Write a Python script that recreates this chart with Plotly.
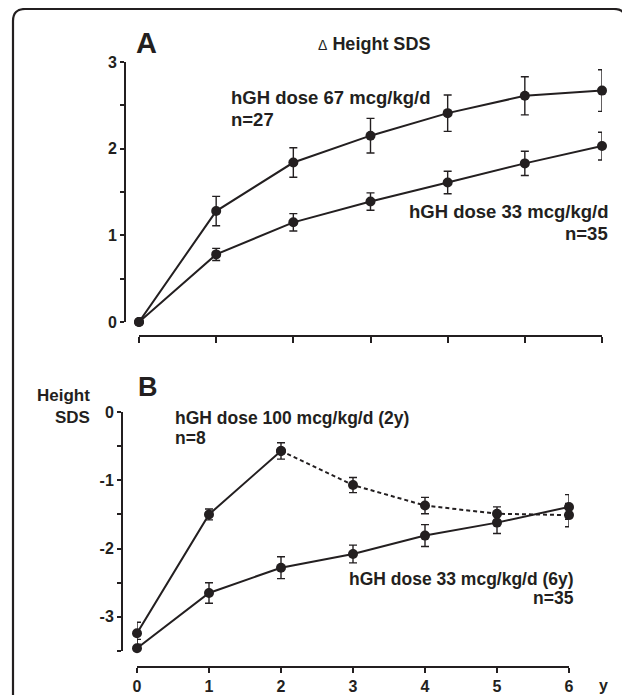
import plotly.graph_objects as go

# ---------------- data ----------------
years = [0, 1, 2, 3, 4, 5, 6]

# Panel A: delta height SDS
a_dose67 = [0, 1.28, 1.84, 2.15, 2.41, 2.61, 2.67]
a_dose67_err = [0, 0.17, 0.17, 0.20, 0.21, 0.22, 0.24]
a_dose33 = [0, 0.78, 1.15, 1.39, 1.61, 1.83, 2.03]
a_dose33_err = [0, 0.07, 0.10, 0.10, 0.13, 0.14, 0.16]

# Panel B: height SDS
b_dose100 = [-3.24, -1.50, -0.57, -1.07, -1.37, -1.49, -1.51]
b_dose100_err = [0.16, 0.08, 0.12, 0.11, 0.12, 0.10, 0.17]
b_dose33 = [-3.46, -2.65, -2.28, -2.08, -1.81, -1.62, -1.39]
b_dose33_err = [0.13, 0.15, 0.16, 0.13, 0.16, 0.16, 0.18]

a_yticks = [0, 0.5, 1, 1.5, 2, 2.5, 3]
a_yticktext = ["0", "", "1", "", "2", "", "3"]
b_yticks = [-3.5, -3, -2.5, -2, -1.5, -1, -0.5, 0]
b_yticktext = ["", "-3", "", "-2", "", "-1", "", "0"]
x_ticktext = ["0", "1", "2", "3", "4", "5", "6"]

# ---------------- layout helpers ----------------
# The page body has an 8px margin, so the figure is drawn at (8, 8);
# it is made 8px smaller so that it fits the 630x695 window.
OFF = 8
W, H = 630 - OFF, 695 - OFF
INK = "#231f20"
FONT = "Liberation Sans, Arial, sans-serif"


def px(x):
    return (x - OFF) / W


def py(y):
    return 1 - (y - OFF) / H


fig = go.Figure()


def add_series(x, y, err, xa, ya, dash="solid"):
    fig.add_trace(go.Scatter(
        x=x, y=y, xaxis=xa, yaxis=ya, mode="lines+markers",
        line=dict(color=INK, width=2, dash=dash),
        marker=dict(color=INK, size=10, symbol="circle"),
        error_y=dict(type="data", array=err, visible=True, color=INK,
                     thickness=1.4, width=4),
        cliponaxis=False, showlegend=False, hoverinfo="x+y"))


# Panel A
add_series(years, a_dose67, a_dose67_err, "x", "y")
add_series(years, a_dose33, a_dose33_err, "x", "y")
# Panel B
add_series(years[:3], b_dose100[:3], b_dose100_err[:3], "x2", "y2")
add_series(years[2:], b_dose100[2:], [0] + b_dose100_err[3:], "x2", "y2",
           dash="4px,3px")
add_series(years, b_dose33, b_dose33_err, "x2", "y2")

tickfont = dict(family=FONT, size=16, color=INK, weight="bold")
common_axis = dict(showline=True, linecolor=INK, linewidth=2, ticks="outside",
                   tickcolor=INK, tickwidth=2, showgrid=False, zeroline=False,
                   tickfont=tickfont, fixedrange=True, automargin=False)

fig.update_layout(
    template="none",
    width=W, height=H, autosize=False,
    margin=dict(l=0, r=0, t=0, b=0, pad=0, autoexpand=False),
    paper_bgcolor="white", plot_bgcolor="rgba(0,0,0,0)",
    font=dict(family=FONT, color=INK),
    xaxis=dict(domain=[px(139), px(602)], range=[0, 6], anchor="free",
               position=py(336), tickvals=years, showticklabels=False,
               ticklen=6, **common_axis),
    yaxis=dict(domain=[py(322), py(62)], range=[0, 3], anchor="free",
               position=px(125), tickvals=a_yticks, ticktext=a_yticktext,
               ticklen=4, **common_axis),
    xaxis2=dict(domain=[px(137), px(569)], range=[0, 6], anchor="free",
                position=py(667), tickvals=years, ticktext=x_ticktext,
                ticklen=5, **common_axis),
    yaxis2=dict(domain=[py(651), py(412)], range=[-3.5, 0], anchor="free",
                position=px(122), tickvals=b_yticks, ticktext=b_yticktext,
                ticklen=4, **common_axis),
)


def note(text, x, y, size, xanchor="left", weight="bold"):
    fig.add_annotation(text=text, x=px(x), y=py(y), xref="paper", yref="paper",
                       xanchor=xanchor, yanchor="middle", showarrow=False,
                       font=dict(family=FONT, size=size, color=INK, weight=weight))


note("A", 146.5, 43, 29, xanchor="center")
note("<span style='font-size:14px;font-weight:normal'>Δ</span> <b>Height SDS</b>",
     316, 44, 18, weight="normal")
note("hGH dose 67 mcg/kg/d", 229, 97, 18.5)
note("n=27", 229, 119, 18.5)
note("hGH dose 33 mcg/kg/d", 610, 211, 18.5, xanchor="right")
note("n=35", 610, 233, 18.5, xanchor="right")

note("B", 148, 387, 27, xanchor="center")
note("Height", 92, 395, 17, xanchor="right")
note("SDS", 92, 417, 17, xanchor="right")
note("hGH dose 100 mcg/kg/d (2y)", 173, 418, 17.5)
note("n=8", 173, 438, 17.5)
note("hGH dose 33 mcg/kg/d (6y)", 576, 579, 17.5, xanchor="right")
note("n=35", 576, 598, 17.5, xanchor="right")
note("y", 603, 685, 16, xanchor="center")

# rounded frame (bottom runs off the page)
x0, x1, yt, yb, r = 13, 626, 9, 720, 12
path = (f"M {px(x0)},{py(yb)} L {px(x0)},{py(yt + r)} "
        f"Q {px(x0)},{py(yt)} {px(x0 + r)},{py(yt)} "
        f"L {px(x1 - r)},{py(yt)} Q {px(x1)},{py(yt)} {px(x1)},{py(yt + r)} "
        f"L {px(x1)},{py(yb)}")
fig.add_shape(type="path", path=path, xref="paper", yref="paper",
              line=dict(color=INK, width=2.2), layer="above")

fig.write_html("out.html")
